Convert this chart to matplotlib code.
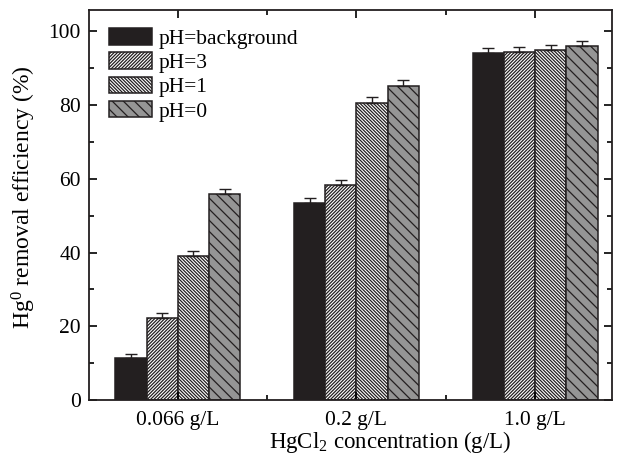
import matplotlib
matplotlib.use("Agg")
import matplotlib.pyplot as plt
import numpy as np

plt.rcParams['font.family'] = ['Liberation Serif', 'DejaVu Serif']
plt.rcParams['mathtext.fontset'] = 'custom'
plt.rcParams['mathtext.rm'] = 'Liberation Serif'
plt.rcParams['mathtext.it'] = 'Liberation Serif:italic'
plt.rcParams['hatch.linewidth'] = 0.9
plt.rcParams['hatch.color'] = '#231f20'

groups = ['0.066 g/L', '0.2 g/L', '1.0 g/L']
series = ['pH=background', 'pH=3', 'pH=1', 'pH=0']
values = {
    'pH=background': [11.3, 53.4, 94.0],
    'pH=3': [22.3, 58.3, 94.3],
    'pH=1': [39.0, 80.6, 95.0],
    'pH=0': [55.8, 85.3, 96.0],
}
errors = {
    'pH=background': [1.2, 1.4, 1.6],
    'pH=3': [1.3, 1.5, 1.5],
    'pH=1': [1.4, 1.5, 1.3],
    'pH=0': [1.3, 1.6, 1.3],
}
faces = ['#231f20', 'white', 'white', '#959595']
hatches = [None, '/' * 10, '\\' * 10, '\\' * 3]

fig, ax = plt.subplots(figsize=(6.25, 4.54), dpi=100)
fig.subplots_adjust(left=0.143, right=0.979, top=0.978, bottom=0.119)

x = np.arange(1, len(groups) + 1)
w = 0.175
for i, s in enumerate(series):
    pos = x + (i - 1.5) * w
    err = np.array(errors[s])
    ax.bar(pos, values[s], width=w, color=faces[i], edgecolor='#231f20',
           hatch=hatches[i], linewidth=1.1, label=s)
    ax.errorbar(pos, values[s], yerr=[np.zeros_like(err), err], fmt='none',
                ecolor='#231f20', elinewidth=1.0, capsize=4.3, capthick=1.0)

ax.set_xlim(0.505, 3.43)
ax.set_ylim(0, 105.8)
ax.set_xticks(x)
ax.set_xticklabels(groups)
ax.set_xticks([1.5, 2.5], minor=True)
ax.set_yticks(np.arange(0, 101, 20))
ax.set_yticks(np.arange(10, 101, 20), minor=True)
ax.tick_params(axis='both', which='both', direction='in', top=True, right=True,
               labelsize=15.5, width=1.2)
ax.tick_params(which='major', length=6)
ax.tick_params(which='minor', length=3.5)
ax.tick_params(axis='x', which='major', pad=8)
ax.tick_params(axis='y', which='major', pad=6)
for sp in ax.spines.values():
    sp.set_linewidth(1.3)
    sp.set_color('#231f20')

ax.set_ylabel('Hg$^0$ removal efficiency (%)', fontsize=17)
ax.set_xlabel('HgCl$_2$ concentration (g/L)', fontsize=16.5)
ax.yaxis.set_label_coords(-0.098, 0.52)
ax.xaxis.set_label_coords(0.576, -0.074)

ax.legend(loc='upper left', frameon=False, fontsize=15.5, handlelength=2.0,
          handleheight=0.8, handletextpad=0.3, labelspacing=0.16,
          borderaxespad=0.0, borderpad=0.0, bbox_to_anchor=(0.038, 0.953))

fig.savefig('out.png', dpi=100)
